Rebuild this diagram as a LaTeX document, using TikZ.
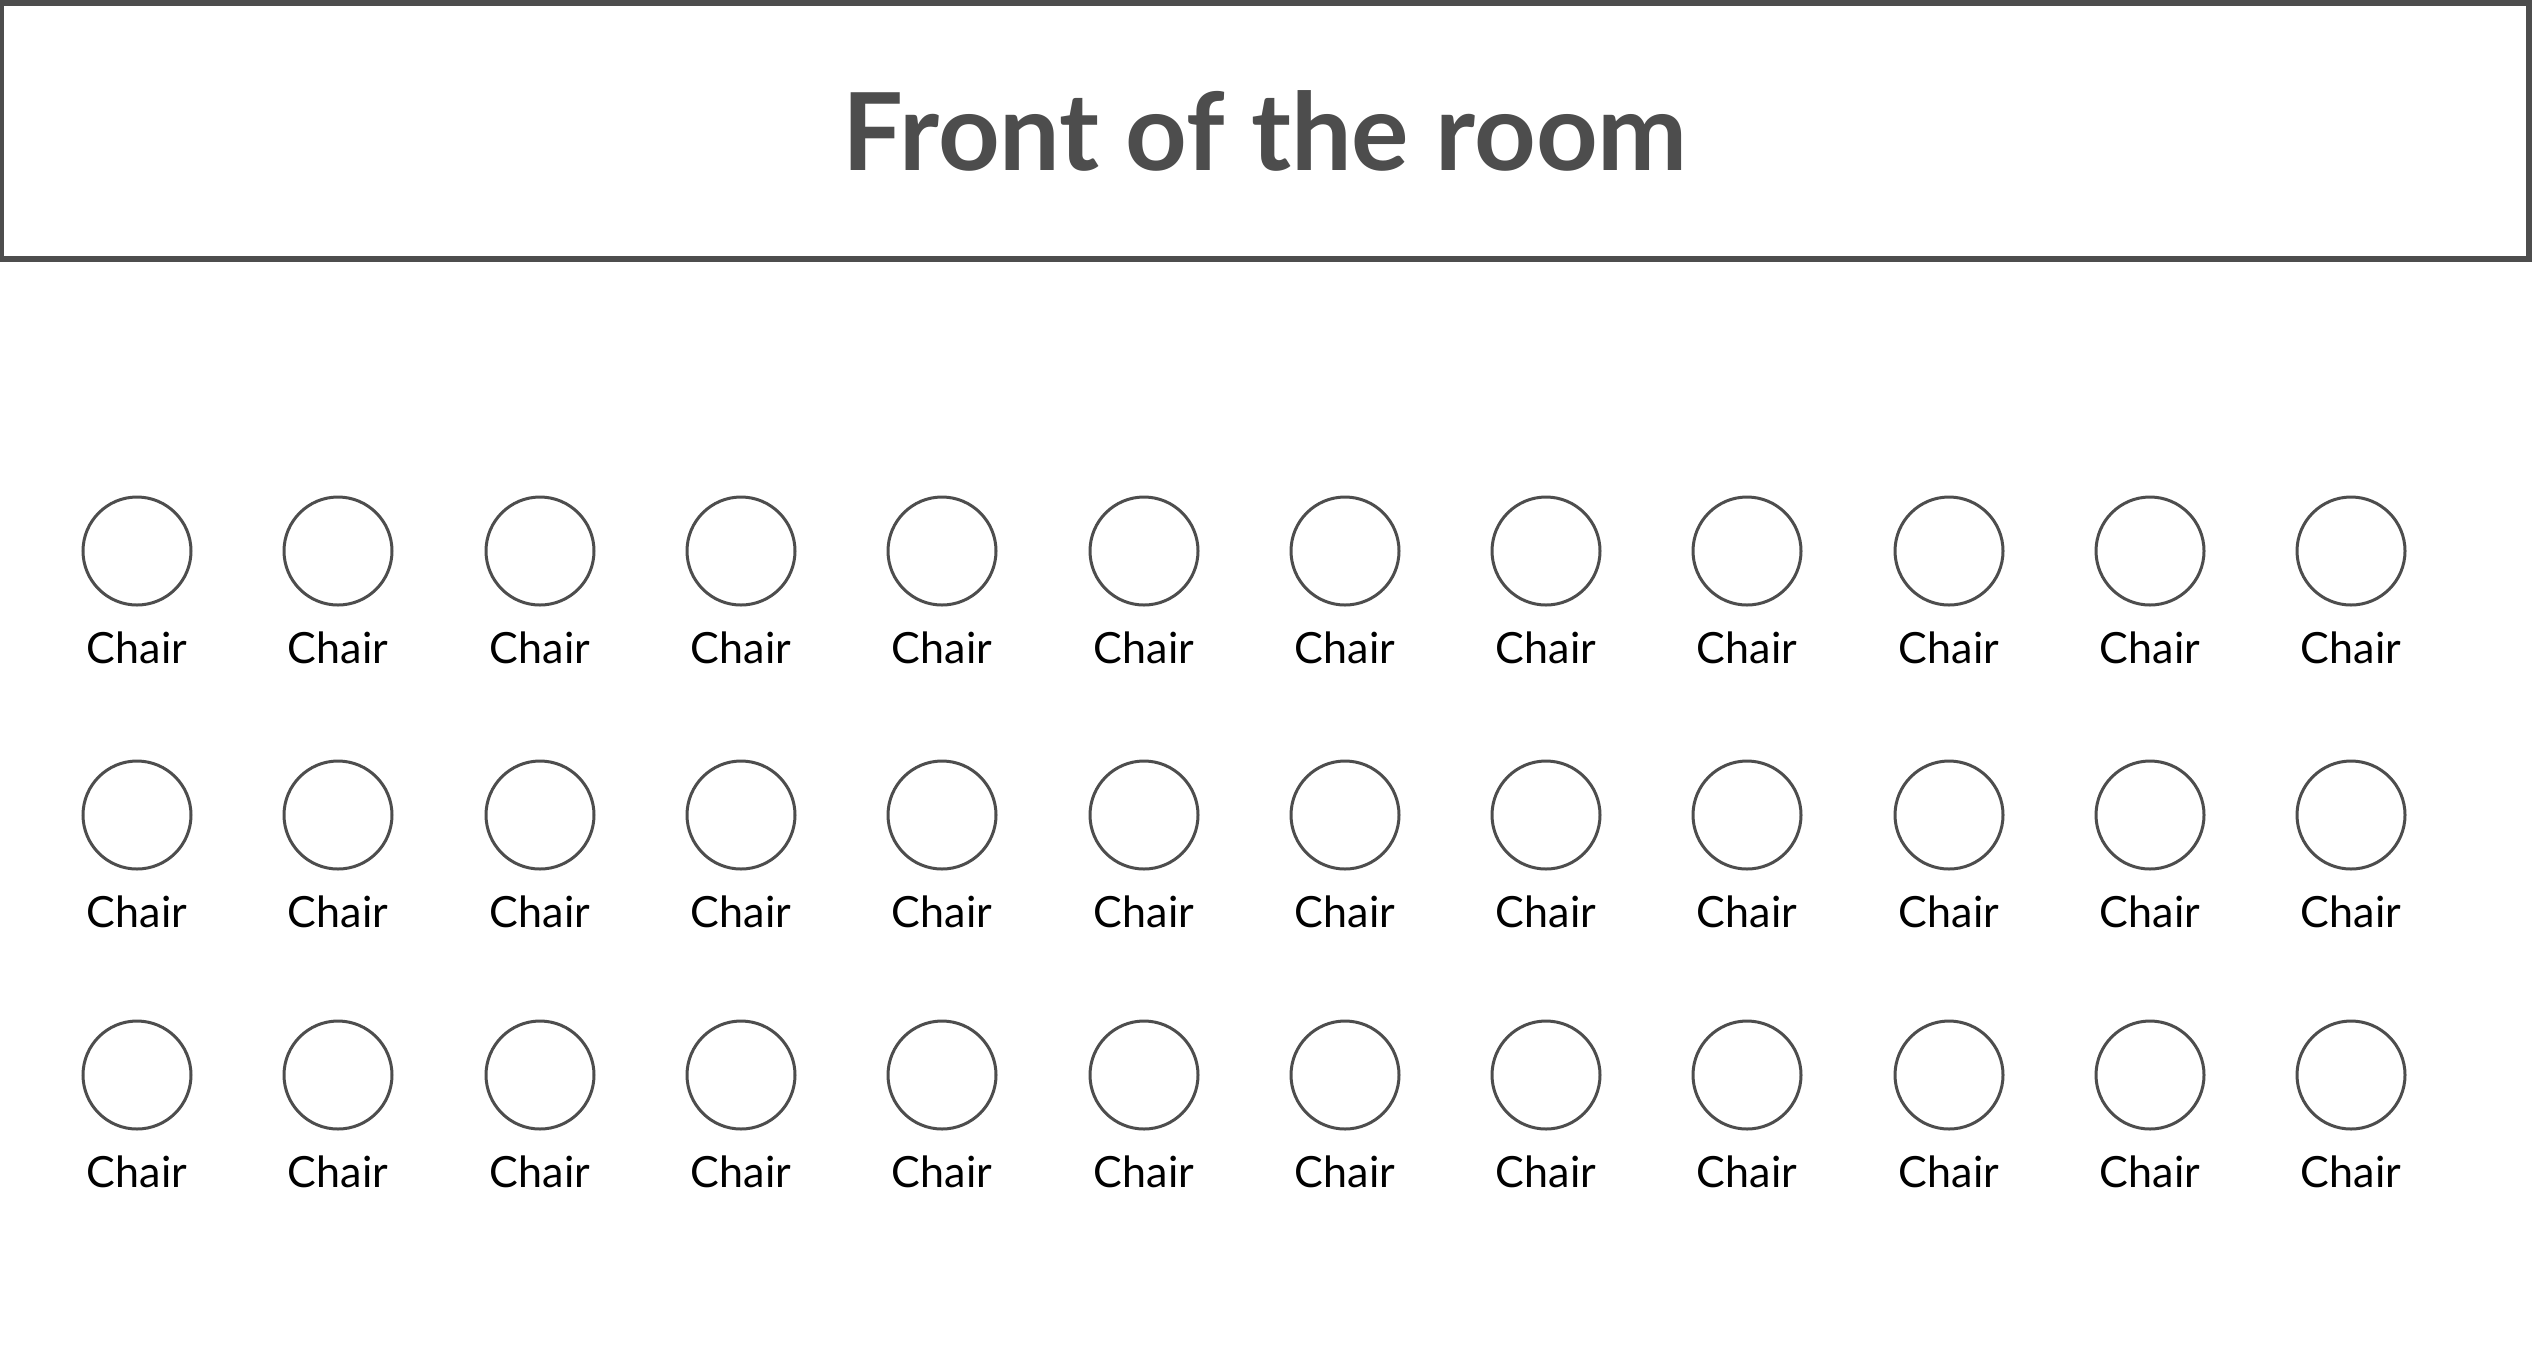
\documentclass[tikz,border=0pt]{standalone}
\usepackage{fontspec}
\setmainfont{Lato}
\usepackage{tikz}
\definecolor{roomgray}{HTML}{4D4D4D}

\begin{document}
\begin{tikzpicture}[x=0.5pt, y=-0.5pt,
    chair/.style={circle, draw=roomgray, line width=1.5pt, inner sep=0pt, minimum size=54pt,
        label={[anchor=base, label distance=28.5pt, font=\fontsize{21.5}{25}\selectfont, text=black]below:Chair}}]
        
        \useasboundingbox (0,0) rectangle (2532,1362);
        
        % Front of the room
        \node[rectangle, draw=roomgray, line width=2.75pt, inner sep=0pt, minimum width=1263.75pt, minimum height=128pt,
            font=\fontsize{53.8}{60}\selectfont\bfseries, text=roomgray] (front) at (1265.25,131) {Front of the room};
        
        % First row
        \node[chair] (a1) at (137,551) {};
        \node[chair] (a2) at (338,551) {};
        \node[chair] (a3) at (540,551) {};
        \node[chair] (a4) at (741,551) {};
        \node[chair] (a5) at (942,551) {};
        \node[chair] (a6) at (1144,551) {};
        \node[chair] (a7) at (1345,551) {};
        \node[chair] (a8) at (1546,551) {};
        \node[chair] (a9) at (1747,551) {};
        \node[chair] (a10) at (1949,551) {};
        \node[chair] (a11) at (2150,551) {};
        \node[chair] (a12) at (2351,551) {};
        % Second row
        \node[chair] (b1) at (137,815) {};
        \node[chair] (b2) at (338,815) {};
        \node[chair] (b3) at (540,815) {};
        \node[chair] (b4) at (741,815) {};
        \node[chair] (b5) at (942,815) {};
        \node[chair] (b6) at (1144,815) {};
        \node[chair] (b7) at (1345,815) {};
        \node[chair] (b8) at (1546,815) {};
        \node[chair] (b9) at (1747,815) {};
        \node[chair] (b10) at (1949,815) {};
        \node[chair] (b11) at (2150,815) {};
        \node[chair] (b12) at (2351,815) {};
        % Third row
        \node[chair] (c1) at (137,1075) {};
        \node[chair] (c2) at (338,1075) {};
        \node[chair] (c3) at (540,1075) {};
        \node[chair] (c4) at (741,1075) {};
        \node[chair] (c5) at (942,1075) {};
        \node[chair] (c6) at (1144,1075) {};
        \node[chair] (c7) at (1345,1075) {};
        \node[chair] (c8) at (1546,1075) {};
        \node[chair] (c9) at (1747,1075) {};
        \node[chair] (c10) at (1949,1075) {};
        \node[chair] (c11) at (2150,1075) {};
        \node[chair] (c12) at (2351,1075) {};
        \end{tikzpicture}
\end{document}
